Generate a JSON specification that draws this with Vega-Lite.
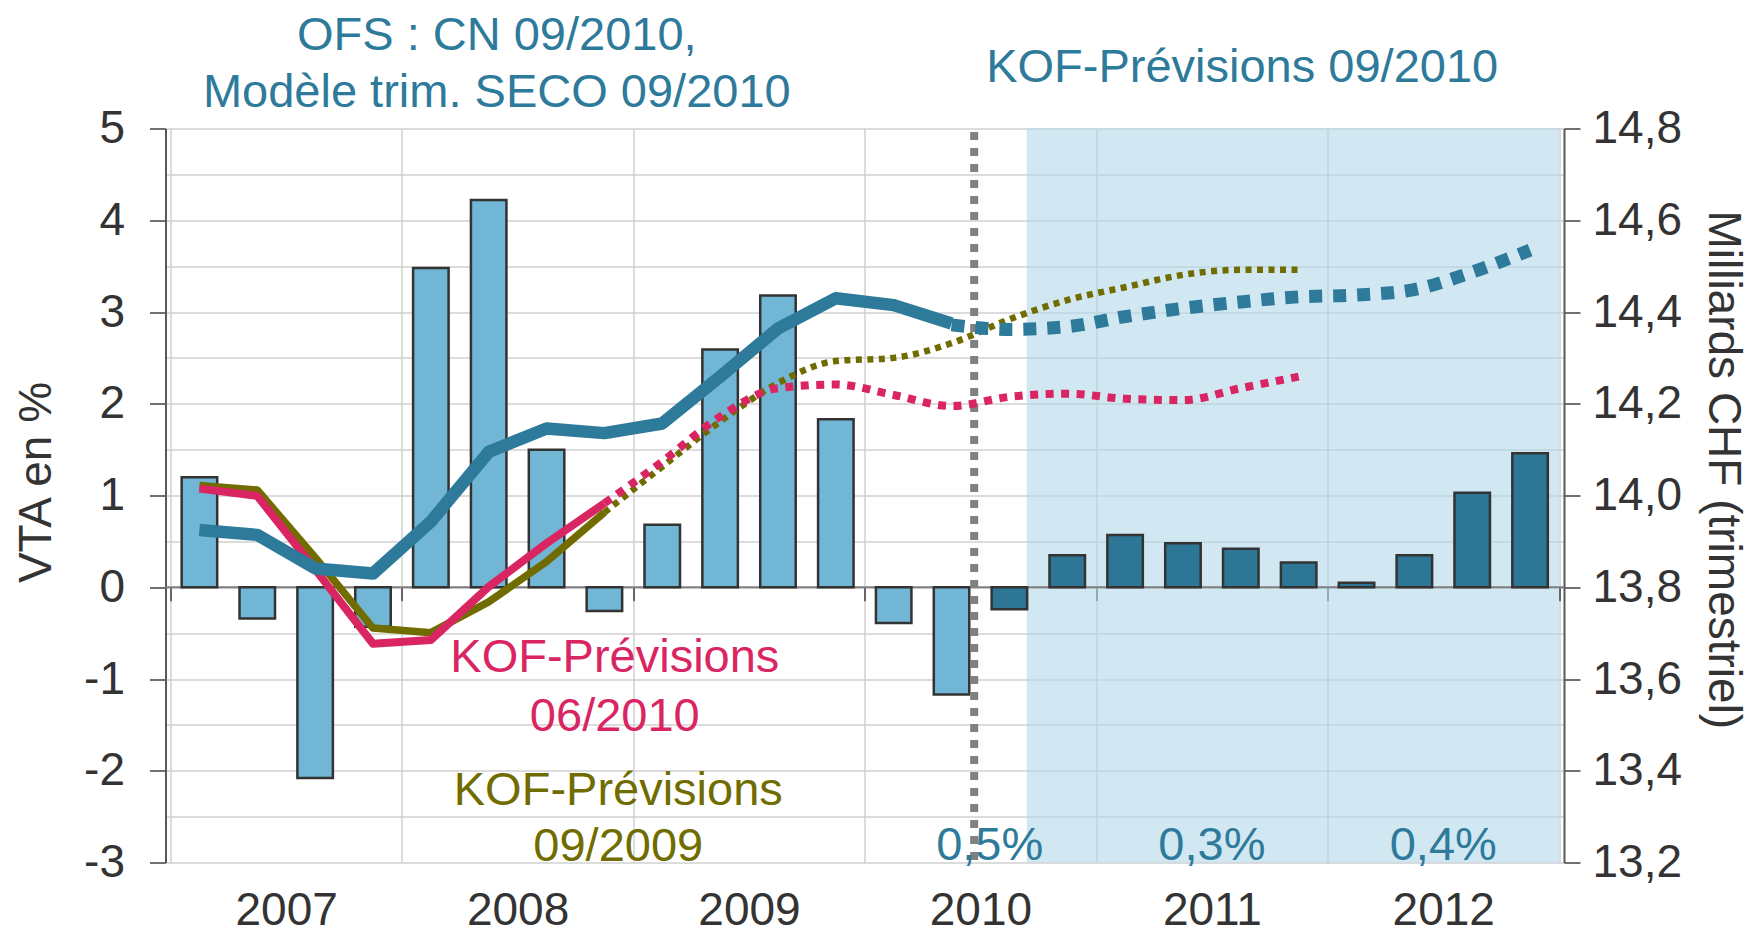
{
  "$schema": "https://vega.github.io/schema/vega-lite/v6.json",
  "width": 1398.5,
  "height": 734,
  "autosize": {"type": "none"},
  "padding": {"left": 165.5, "top": 128.5, "right": 188, "bottom": 73.5},
  "background": "white",
  "config": {
    "view": {"stroke": null},
    "font": "Liberation Sans",
    "axis": {"labelFont": "Liberation Sans", "titleFont": "Liberation Sans", "titleFontWeight": "normal", "labelColor": "#333333", "titleColor": "#333333"}
  },
  "datasets": {
    "quarters": [
      {"t": 2007.125, "vta": 1.20, "type": "observé"},
      {"t": 2007.375, "vta": -0.34, "type": "observé"},
      {"t": 2007.625, "vta": -2.08, "type": "observé"},
      {"t": 2007.875, "vta": -0.43, "type": "observé"},
      {"t": 2008.125, "vta": 3.48, "type": "observé"},
      {"t": 2008.375, "vta": 4.22, "type": "observé"},
      {"t": 2008.625, "vta": 1.50, "type": "observé"},
      {"t": 2008.875, "vta": -0.26, "type": "observé"},
      {"t": 2009.125, "vta": 0.68, "type": "observé"},
      {"t": 2009.375, "vta": 2.59, "type": "observé"},
      {"t": 2009.625, "vta": 3.18, "type": "observé"},
      {"t": 2009.875, "vta": 1.83, "type": "observé"},
      {"t": 2010.125, "vta": -0.39, "type": "observé"},
      {"t": 2010.375, "vta": -1.17, "type": "observé"},
      {"t": 2010.625, "vta": -0.24, "type": "prévision"},
      {"t": 2010.875, "vta": 0.35, "type": "prévision"},
      {"t": 2011.125, "vta": 0.57, "type": "prévision"},
      {"t": 2011.375, "vta": 0.48, "type": "prévision"},
      {"t": 2011.625, "vta": 0.42, "type": "prévision"},
      {"t": 2011.875, "vta": 0.27, "type": "prévision"},
      {"t": 2012.125, "vta": 0.05, "type": "prévision"},
      {"t": 2012.375, "vta": 0.35, "type": "prévision"},
      {"t": 2012.625, "vta": 1.03, "type": "prévision"},
      {"t": 2012.875, "vta": 1.46, "type": "prévision"}
    ],
    "pib": [
      {"serie": "OFS", "trace": "obs", "t": 2007.125, "v": 13.925},
      {"serie": "OFS", "trace": "obs", "t": 2007.375, "v": 13.914},
      {"serie": "OFS", "trace": "obs", "t": 2007.625, "v": 13.841},
      {"serie": "OFS", "trace": "obs", "t": 2007.875, "v": 13.830},
      {"serie": "OFS", "trace": "obs", "t": 2008.125, "v": 13.943},
      {"serie": "OFS", "trace": "obs", "t": 2008.375, "v": 14.095},
      {"serie": "OFS", "trace": "obs", "t": 2008.625, "v": 14.146},
      {"serie": "OFS", "trace": "obs", "t": 2008.875, "v": 14.136},
      {"serie": "OFS", "trace": "obs", "t": 2009.125, "v": 14.157},
      {"serie": "OFS", "trace": "obs", "t": 2009.375, "v": 14.259},
      {"serie": "OFS", "trace": "obs", "t": 2009.625, "v": 14.364},
      {"serie": "OFS", "trace": "obs", "t": 2009.875, "v": 14.430},
      {"serie": "OFS", "trace": "obs", "t": 2010.125, "v": 14.415},
      {"serie": "OFS", "trace": "obs", "t": 2010.375, "v": 14.375},
      {"serie": "OFS", "trace": "prev", "t": 2010.375, "v": 14.372},
      {"serie": "OFS", "trace": "prev", "t": 2010.625, "v": 14.362},
      {"serie": "OFS", "trace": "prev", "t": 2010.875, "v": 14.368},
      {"serie": "OFS", "trace": "prev", "t": 2011.125, "v": 14.390},
      {"serie": "OFS", "trace": "prev", "t": 2011.375, "v": 14.408},
      {"serie": "OFS", "trace": "prev", "t": 2011.625, "v": 14.422},
      {"serie": "OFS", "trace": "prev", "t": 2011.875, "v": 14.433},
      {"serie": "OFS", "trace": "prev", "t": 2012.125, "v": 14.437},
      {"serie": "OFS", "trace": "prev", "t": 2012.375, "v": 14.449},
      {"serie": "OFS", "trace": "prev", "t": 2012.625, "v": 14.487},
      {"serie": "OFS", "trace": "prev", "t": 2012.875, "v": 14.535},
      {"serie": "KOF0610", "trace": "obs", "t": 2007.125, "v": 14.015},
      {"serie": "KOF0610", "trace": "obs", "t": 2007.375, "v": 13.999},
      {"serie": "KOF0610", "trace": "obs", "t": 2007.625, "v": 13.839},
      {"serie": "KOF0610", "trace": "obs", "t": 2007.875, "v": 13.677},
      {"serie": "KOF0610", "trace": "obs", "t": 2008.125, "v": 13.685},
      {"serie": "KOF0610", "trace": "obs", "t": 2008.375, "v": 13.801},
      {"serie": "KOF0610", "trace": "obs", "t": 2008.625, "v": 13.896},
      {"serie": "KOF0610", "trace": "obs", "t": 2008.875, "v": 13.983},
      {"serie": "KOF0610", "trace": "prev", "t": 2008.875, "v": 13.983},
      {"serie": "KOF0610", "trace": "prev", "t": 2009.125, "v": 14.074},
      {"serie": "KOF0610", "trace": "prev", "t": 2009.375, "v": 14.172},
      {"serie": "KOF0610", "trace": "prev", "t": 2009.625, "v": 14.234},
      {"serie": "KOF0610", "trace": "prev", "t": 2009.875, "v": 14.242},
      {"serie": "KOF0610", "trace": "prev", "t": 2010.125, "v": 14.219},
      {"serie": "KOF0610", "trace": "prev", "t": 2010.375, "v": 14.195},
      {"serie": "KOF0610", "trace": "prev", "t": 2010.625, "v": 14.215},
      {"serie": "KOF0610", "trace": "prev", "t": 2010.875, "v": 14.222},
      {"serie": "KOF0610", "trace": "prev", "t": 2011.125, "v": 14.211},
      {"serie": "KOF0610", "trace": "prev", "t": 2011.375, "v": 14.208},
      {"serie": "KOF0610", "trace": "prev", "t": 2011.625, "v": 14.234},
      {"serie": "KOF0610", "trace": "prev", "t": 2011.875, "v": 14.259},
      {"serie": "KOF0909", "trace": "obs", "t": 2007.125, "v": 14.022},
      {"serie": "KOF0909", "trace": "obs", "t": 2007.375, "v": 14.012},
      {"serie": "KOF0909", "trace": "obs", "t": 2007.625, "v": 13.865},
      {"serie": "KOF0909", "trace": "obs", "t": 2007.875, "v": 13.711},
      {"serie": "KOF0909", "trace": "obs", "t": 2008.125, "v": 13.701},
      {"serie": "KOF0909", "trace": "obs", "t": 2008.375, "v": 13.768},
      {"serie": "KOF0909", "trace": "obs", "t": 2008.625, "v": 13.856},
      {"serie": "KOF0909", "trace": "obs", "t": 2008.875, "v": 13.963},
      {"serie": "KOF0909", "trace": "prev", "t": 2008.875, "v": 13.963},
      {"serie": "KOF0909", "trace": "prev", "t": 2009.125, "v": 14.063},
      {"serie": "KOF0909", "trace": "prev", "t": 2009.375, "v": 14.161},
      {"serie": "KOF0909", "trace": "prev", "t": 2009.625, "v": 14.245},
      {"serie": "KOF0909", "trace": "prev", "t": 2009.875, "v": 14.293},
      {"serie": "KOF0909", "trace": "prev", "t": 2010.125, "v": 14.300},
      {"serie": "KOF0909", "trace": "prev", "t": 2010.375, "v": 14.332},
      {"serie": "KOF0909", "trace": "prev", "t": 2010.625, "v": 14.384},
      {"serie": "KOF0909", "trace": "prev", "t": 2010.875, "v": 14.426},
      {"serie": "KOF0909", "trace": "prev", "t": 2011.125, "v": 14.454},
      {"serie": "KOF0909", "trace": "prev", "t": 2011.375, "v": 14.481},
      {"serie": "KOF0909", "trace": "prev", "t": 2011.625, "v": 14.492},
      {"serie": "KOF0909", "trace": "prev", "t": 2011.875, "v": 14.492}
    ],
    "annual": [
      {"t": 2010.54, "label": "0,5%"},
      {"t": 2011.5, "label": "0,3%"},
      {"t": 2012.5, "label": "0,4%"}
    ]
  },
  "layer": [
    {
      "layer": [
        {
          "data": {"name": "quarters"},
          "mark": {"type": "bar", "orient": "vertical", "width": 36, "opacity": 0},
          "encoding": {
            "x": {
              "field": "t", "type": "quantitative",
              "scale": {"domain": [2007, 2013], "nice": false, "zero": false},
              "axis": {
                "orient": "bottom",
                "values": [2007, 2007.5, 2008, 2008.5, 2009, 2009.5, 2010, 2010.5, 2011, 2011.5, 2012, 2012.5, 2013],
                "grid": true,
                "gridColor": {"condition": {"test": "datum.value % 1 !== 0", "value": "rgba(0,0,0,0)"}, "value": "#D0D0D0"},
                "gridWidth": 1.5,
                "ticks": false,
                "tickSize": 0,
                "domain": false,
                "labelExpr": "datum.value % 1 === 0.5 ? '' + floor(datum.value) : ''",
                "labelBaseline": "alphabetic",
                "labelPadding": 61.5,
                "labelFontSize": 46,
                "labelFlush": false,
                "labelOverlap": false,
                "title": null
              }
            },
            "y": {
              "field": "vta", "type": "quantitative",
              "scale": {"domain": [-3, 5], "nice": false, "zero": false},
              "axis": {
                "orient": "left",
                "values": [-3, -2.5, -2, -1.5, -1, -0.5, 0, 0.5, 1, 1.5, 2, 2.5, 3, 3.5, 4, 4.5, 5],
                "grid": true,
                "gridColor": "#D0D0D0",
                "gridWidth": 1.5,
                "tickColor": {"condition": {"test": "datum.value % 1 !== 0", "value": "rgba(0,0,0,0)"}, "value": "#404040"},
                "tickSize": 16,
                "tickWidth": 1.5,
                "domainColor": "#595959",
                "domainWidth": 2,
                "labelExpr": "datum.value % 1 === 0 ? '' + datum.value : ''",
                "labelPadding": 25,
                "labelFontSize": 46,
                "labelFlush": false,
                "labelOverlap": false,
                "title": "VTA en %",
                "titleFontSize": 46,
                "titleAngle": -90,
                "titleX": -115.5,
                "titleY": 353.5,
                "titleAlign": "center",
                "titleBaseline": "alphabetic"
              }
            }
          }
        },
        {
          "data": {"values": [{"start": 2010.70, "end": 2013}]},
          "mark": {"type": "rect", "fill": "#B2D9E9", "opacity": 0.6},
          "encoding": {
            "x": {"field": "start", "type": "quantitative"},
            "x2": {"field": "end"}
          }
        },
        {
          "data": {"values": [{}]},
          "mark": {"type": "rule", "color": "#7F7F7F", "strokeWidth": 2},
          "encoding": {
            "y": {"datum": 0, "type": "quantitative"}
          }
        },
        {
          "data": {"name": "quarters"},
          "mark": {"type": "bar", "orient": "vertical", "width": 35.5, "stroke": "#333333", "strokeWidth": 2.5},
          "encoding": {
            "x": {"field": "t", "type": "quantitative"},
            "y": {"field": "vta", "type": "quantitative"},
            "fill": {"field": "type", "type": "nominal", "scale": {"domain": ["observé", "prévision"], "range": ["#71B6D4", "#2E7696"]}, "legend": null}
          }
        },
        {
          "data": {"values": [{}]},
          "mark": {"type": "rule", "color": "#808080", "strokeWidth": 8, "strokeDash": [8, 8], "strokeDashOffset": -3.5},
          "encoding": {
            "x": {"datum": 2010.473, "type": "quantitative"}
          }
        },
        {
          "data": {"values": [{}]},
          "mark": {"type": "text", "text": ["OFS : CN 09/2010,", "Modèle trim. SECO 09/2010"], "lineHeight": 57.5, "fontSize": 47, "font": "Liberation Sans", "color": "#2E7A9A", "align": "center", "baseline": "alphabetic"},
          "encoding": {
            "x": {"datum": 2008.41, "type": "quantitative"},
            "y": {"datum": 5.856, "type": "quantitative"}
          }
        },
        {
          "data": {"values": [{}]},
          "mark": {"type": "text", "text": "KOF-Prévisions 09/2010", "fontSize": 47, "font": "Liberation Sans", "color": "#2E7A9A", "align": "center", "baseline": "alphabetic"},
          "encoding": {
            "x": {"datum": 2011.631, "type": "quantitative"},
            "y": {"datum": 5.51, "type": "quantitative"}
          }
        },
        {
          "data": {"values": [{}]},
          "mark": {"type": "text", "text": ["KOF-Prévisions", "06/2010"], "lineHeight": 58.3, "fontSize": 47, "font": "Liberation Sans", "color": "#DA2563", "align": "center", "baseline": "alphabetic"},
          "encoding": {
            "x": {"datum": 2008.92, "type": "quantitative"},
            "y": {"datum": -0.926, "type": "quantitative"}
          }
        },
        {
          "data": {"values": [{}]},
          "mark": {"type": "text", "text": ["KOF-Prévisions", "09/2009"], "lineHeight": 56.7, "fontSize": 47, "font": "Liberation Sans", "color": "#706C00", "align": "center", "baseline": "alphabetic"},
          "encoding": {
            "x": {"datum": 2008.935, "type": "quantitative"},
            "y": {"datum": -2.368, "type": "quantitative"}
          }
        },
        {
          "data": {"name": "annual"},
          "mark": {"type": "text", "fontSize": 47, "font": "Liberation Sans", "color": "#2E7A9A", "align": "center", "baseline": "alphabetic"},
          "encoding": {
            "x": {"field": "t", "type": "quantitative"},
            "y": {"datum": -2.978, "type": "quantitative"},
            "text": {"field": "label"}
          }
        }
      ]
    },
    {
      "data": {"name": "pib"},
      "encoding": {
        "x": {
          "field": "t", "type": "quantitative",
          "scale": {"domain": [2007, 2013], "nice": false, "zero": false},
          "axis": {
            "orient": "top",
            "offset": -458.2,
            "values": [2007, 2008, 2009, 2010, 2011, 2012, 2013],
            "grid": false,
            "domain": false,
            "labels": false,
            "ticks": true,
            "tickSize": -14,
            "tickColor": "#404040",
            "tickWidth": 1.5,
            "title": null
          }
        },
        "y": {
          "field": "v", "type": "quantitative",
          "scale": {"domain": [13.2, 14.8], "nice": false, "zero": false},
          "axis": {
            "orient": "right",
            "values": [13.2, 13.4, 13.6, 13.8, 14.0, 14.2, 14.4, 14.6, 14.8],
            "grid": false,
            "tickSize": 16,
            "tickColor": "#404040",
            "tickWidth": 1.5,
            "domainColor": "#595959",
            "domainWidth": 2,
            "labelExpr": "replace(format(datum.value, '.1f'), '.', ',')",
            "labelPadding": 12,
            "labelFontSize": 46,
            "labelFlush": false,
            "labelOverlap": false,
            "title": "Milliards CHF (trimestriel)",
            "titleFontSize": 46,
            "titleAngle": 90,
            "titleX": 144,
            "titleY": 340.8,
            "titleAlign": "center",
            "titleBaseline": "alphabetic"
          }
        }
      },
      "layer": [
        {
          "transform": [{"filter": "datum.serie === 'KOF0909' && datum.trace === 'obs'"}],
          "mark": {"type": "line", "color": "#706C00", "strokeWidth": 7.5, "strokeJoin": "round"}
        },
        {
          "transform": [{"filter": "datum.serie === 'KOF0610' && datum.trace === 'obs'"}],
          "mark": {"type": "line", "color": "#DA2563", "strokeWidth": 8, "strokeJoin": "round"}
        },
        {
          "transform": [{"filter": "datum.serie === 'KOF0909' && datum.trace === 'prev'"}],
          "mark": {"type": "line", "color": "#706C00", "strokeWidth": 6.5, "strokeDash": [6, 5.5], "interpolate": "monotone"}
        },
        {
          "transform": [{"filter": "datum.serie === 'KOF0610' && datum.trace === 'prev'"}],
          "mark": {"type": "line", "color": "#DA2563", "strokeWidth": 8, "strokeDash": [8, 7.5], "interpolate": "monotone"}
        },
        {
          "transform": [{"filter": "datum.serie === 'OFS' && datum.trace === 'obs'"}],
          "mark": {"type": "line", "color": "#2D7A9B", "strokeWidth": 12.5, "strokeJoin": "round"}
        },
        {
          "transform": [{"filter": "datum.serie === 'OFS' && datum.trace === 'prev'"}],
          "mark": {"type": "line", "color": "#2D7A9B", "strokeWidth": 13, "strokeDash": [13, 11], "interpolate": "monotone"}
        }
      ]
    }
  ],
  "resolve": {"scale": {"y": "independent"}, "axis": {"x": "independent"}}
}
